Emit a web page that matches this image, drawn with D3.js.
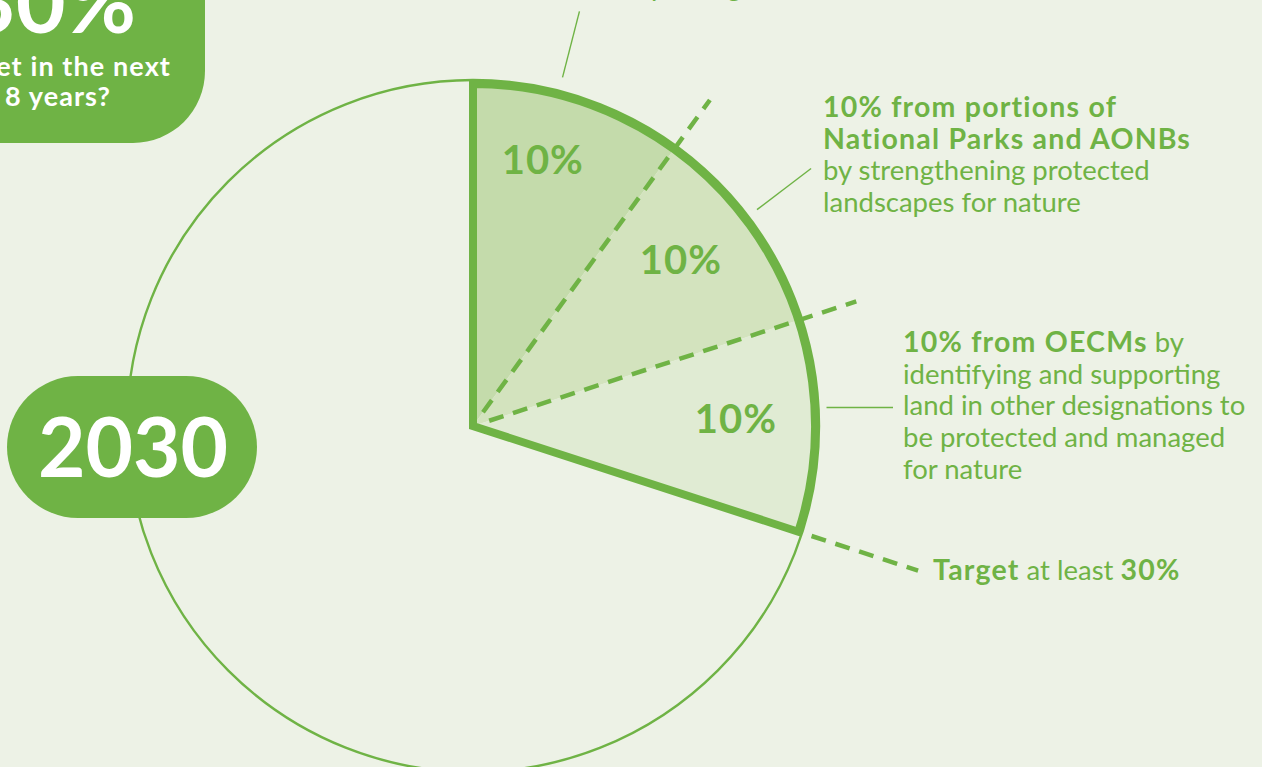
<!DOCTYPE html>
<html>
<head>
<meta charset="utf-8">
<script src="https://cdn.jsdelivr.net/npm/d3@7"></script>
<style>
  html, body { margin: 0; padding: 0; background: #edf2e6; }
  svg { display: block; font-family: Lato, "Noto Sans", sans-serif; }
</style>
</head>
<body>
<svg id="chart" width="1262" height="767"></svg>
<script>
// Share of land that each route contributes towards the 2030 target (percent)
const categories = ["Protected sites", "National Parks and AONBs", "OECMs", "Remaining land"];
const shares = [10, 10, 10, 70];
const sliceLabels = ["10%", "10%", "10%"];
const targetShare = 30;
const targetYear = "2030";

// Annotation copy
const topLine = "and improving";
const parksLines = [
  [{ t: "10% from portions of", b: true }],
  [{ t: "National Parks and AONBs", b: true }],
  [{ t: "by strengthening protected", b: false }],
  [{ t: "landscapes for nature", b: false }]
];
const oecmLines = [
  [{ t: "10% from OECMs", b: true }, { t: " by", b: false }],
  [{ t: "identifying and supporting", b: false }],
  [{ t: "land in other designations to", b: false }],
  [{ t: "be protected and managed", b: false }],
  [{ t: "for nature", b: false }]
];
const targetLine = [
  { t: "Target", b: true }, { t: " at least ", b: false }, { t: targetShare + "%", b: true }
];
const questionLines = ["meet the target in the next", "8 years?"];

// ---- styling / layout ----
const green = "#6fb345";
const bg = "#edf2e6";
const sliceFills = ["#c4dbab", "#d3e3be", "#e0ebd3"];
const cx = 473, cy = 426;
const rCircle = 346, rWedge = 342;
const labelNudgeDeg = [-3.3, -2.6, -1.5];
const labelRadius = [275, 266, 263];

const svg = d3.select("#chart");
svg.append("rect").attr("width", 1262).attr("height", 767).attr("fill", bg);

const g = svg.append("g").attr("transform", `translate(${cx},${cy})`);

const pie = d3.pie().sort(null).value(d => d);
const arcs = pie(shares);
const arc = d3.arc().innerRadius(0).outerRadius(rWedge);
const polar = (a, r) => [r * Math.sin(a), -r * Math.cos(a)];
const deg = Math.PI / 180;

// whole-land circle
g.append("circle").attr("r", rCircle).attr("fill", "none")
  .attr("stroke", green).attr("stroke-width", 2.4);

// the three contributing slices
const parts = arcs.slice(0, 3);
g.selectAll("path.slice").data(parts).join("path")
  .attr("class", "slice")
  .attr("d", arc)
  .attr("fill", (d, i) => sliceFills[i]);

// dashed dividers between slices
parts.slice(0, 2).forEach(d => {
  const [x1, y1] = polar(d.endAngle, 17);
  const [x2, y2] = polar(d.endAngle, 403);
  g.append("line").attr("x1", x1).attr("y1", y1).attr("x2", x2).attr("y2", y2)
    .attr("stroke", green).attr("stroke-width", 4.5).attr("stroke-dasharray", "15,10");
});

// thick outline around the combined target wedge
const targetEnd = parts[2].endAngle;
g.append("path")
  .attr("d", arc({ startAngle: 0, endAngle: targetEnd }))
  .attr("fill", "none").attr("stroke", green).attr("stroke-width", 8)
  .attr("stroke-linejoin", "miter");

// dashed extension at the target boundary
{
  const [x1, y1] = polar(targetEnd, 356);
  const [x2, y2] = polar(targetEnd, 468);
  g.append("line").attr("x1", x1).attr("y1", y1).attr("x2", x2).attr("y2", y2)
    .attr("stroke", green).attr("stroke-width", 4.5).attr("stroke-dasharray", "15,10");
}

// slice value labels
const labelPos = (d, i) => polar((d.startAngle + d.endAngle) / 2 + labelNudgeDeg[i] * deg, labelRadius[i]);
g.selectAll("text.val").data(parts).join("text")
  .attr("class", "val")
  .attr("x", (d, i) => labelPos(d, i)[0])
  .attr("y", (d, i) => labelPos(d, i)[1] + 14)
  .attr("text-anchor", "middle")
  .attr("fill", green).attr("font-weight", 700).attr("font-size", 40)
  .attr("letter-spacing", 1)
  .text((d, i) => sliceLabels[i]);

// leader lines
const leader = (a, r1, r2) => {
  const [x1, y1] = polar(a, r1), [x2, y2] = polar(a, r2);
  g.append("line").attr("x1", x1).attr("y1", y1).attr("x2", x2).attr("y2", y2)
    .attr("stroke", green).attr("stroke-width", 1.4);
};
leader(14.4 * deg, 360, 428);
leader(52.7 * deg, 357, 425);
{
  const [x1, y1] = polar(87 * deg, 354);
  g.append("line").attr("x1", x1).attr("y1", y1).attr("x2", 420).attr("y2", y1)
    .attr("stroke", green).attr("stroke-width", 1.4);
}

// text blocks
function block(x, y0, lh, lines) {
  const t = svg.append("text").attr("fill", green);
  lines.forEach((parts, i) => {
    parts.forEach((p, j) => {
      const ts = t.append("tspan").text(p.t).style("white-space", "pre");
      if (p.b) ts.attr("font-weight", 700).attr("font-size", 28.5).attr("letter-spacing", 1.2);
      else ts.attr("font-weight", 400).attr("font-size", 27.5);
      if (j === 0) ts.attr("x", x).attr("y", y0 + i * lh);
    });
  });
  return t;
}
block(823, 117, 31.7, parksLines);
block(903, 352, 31.7, oecmLines);
block(933, 580, 0, [targetLine]);

// partially visible line at the very top
{
  const t = svg.append("text").attr("fill", green).attr("font-size", 27.5)
    .attr("y", -4).attr("x", 0).text(topLine);
  const node = t.node();
  const p = topLine.indexOf("p");
  const off = node.getStartPositionOfChar(p).x;
  t.attr("x", 651 - off);
}

// question badge (top left)
svg.append("rect").attr("x", -300).attr("y", -300).attr("width", 505).attr("height", 443)
  .attr("rx", 72).attr("fill", green);
svg.append("text").attr("x", 136).attr("y", 33).attr("text-anchor", "end")
  .attr("fill", "#fff").attr("font-weight", 700).attr("font-size", 86)
  .text(targetShare + "%");
svg.append("text").attr("x", 171).attr("y", 76).attr("text-anchor", "end")
  .attr("fill", "#fff").attr("font-weight", 700).attr("font-size", 27)
  .attr("letter-spacing", 1.1)
  .text(questionLines[0]);
svg.append("text").attr("x", 5).attr("y", 106)
  .attr("fill", "#fff").attr("font-weight", 700).attr("font-size", 27)
  .attr("letter-spacing", 1.1)
  .text(questionLines[1]);

// year pill
svg.append("rect").attr("x", 7).attr("y", 376).attr("width", 250).attr("height", 142)
  .attr("rx", 71).attr("fill", green);
svg.append("text").attr("x", 133).attr("y", 477).attr("text-anchor", "middle")
  .attr("fill", "#fff").attr("font-weight", 700).attr("font-size", 82)
  .text(targetYear);
</script>
</body>
</html>
